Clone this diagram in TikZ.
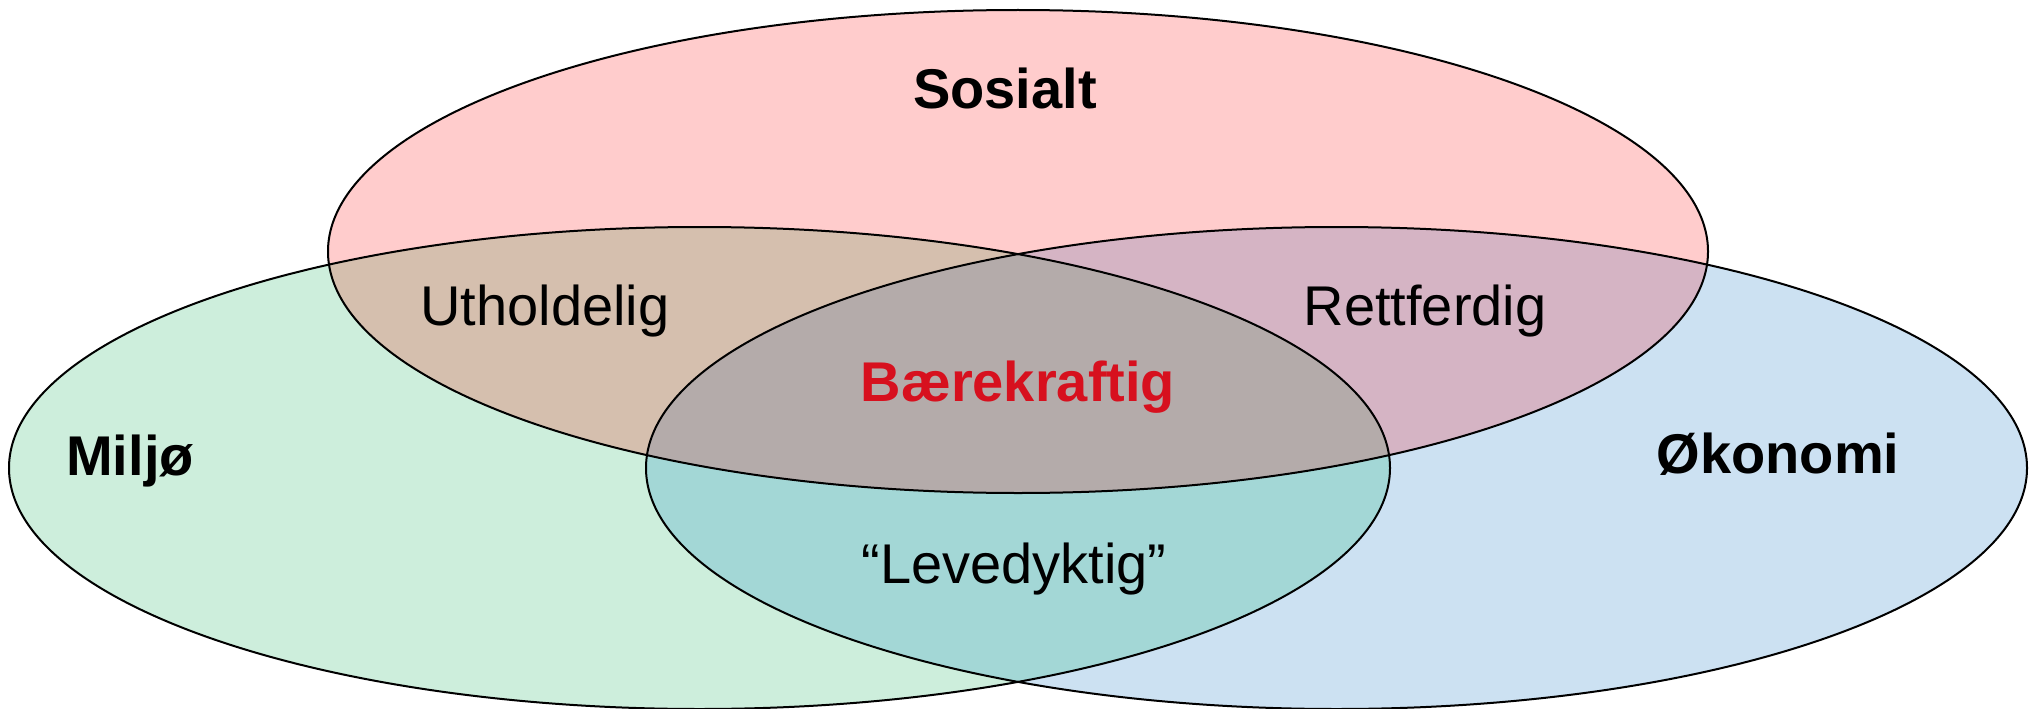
\documentclass[tikz,border=0pt]{standalone}
\usepackage{fontspec}
\setmainfont{Liberation Sans}
\definecolor{pinkc}{HTML}{FFCCCC}
\definecolor{greenc}{HTML}{CDEEDC}
\definecolor{bluec}{HTML}{CCE1F2}
\definecolor{pgc}{HTML}{D5BFAE}
\definecolor{pbc}{HTML}{D5B4C4}
\definecolor{gbc}{HTML}{A3D7D6}
\definecolor{tric}{HTML}{B4ABAA}
\definecolor{redtxt}{HTML}{D7101E}
\begin{document}
\begin{tikzpicture}[x=1pt,y=-1pt,
  outline/.style={draw=black,line width=2pt},
  lbl/.style={anchor=base,inner sep=0pt,font=\fontsize{56}{60}\selectfont},
  blbl/.style={lbl,font=\fontsize{56}{60}\selectfont\bfseries}]
\useasboundingbox (0,0) rectangle (2035,709);
\coordinate (cs) at (1018,251.5);
\coordinate (cm) at (699.5,468);
\coordinate (co) at (1336.5,468);
\def\sosE{(cs) ellipse [x radius=690pt, y radius=241.5pt]}
\def\milE{(cm) ellipse [x radius=690.5pt, y radius=241pt]}
\def\okoE{(co) ellipse [x radius=690.5pt, y radius=241pt]}
\fill[pinkc] \sosE;
\fill[greenc] \milE;
\fill[bluec] \okoE;
\begin{scope}\clip \sosE; \fill[pgc] \milE; \fill[pbc] \okoE; \end{scope}
\begin{scope}\clip \milE; \fill[gbc] \okoE; \end{scope}
\begin{scope}\clip \sosE; \clip \milE; \fill[tric] \okoE; \end{scope}
\draw[outline] \milE;
\draw[outline] \okoE;
\draw[outline] \sosE;
\node[blbl] (sos) at (1005,108) {Sosialt};
\node[blbl] (mil) at (130,475) {Miljø};
\node[blbl] (oko) at (1778,473) {Økonomi};
\node[lbl] (uth) at (545,325) {Utholdelig};
\node[lbl] (ret) at (1425,325) {Rettferdig};
\node[blbl,text=redtxt] (bae) at (1018,401) {Bærekraftig};
\node[lbl] (lev) at (1014,583) {“Levedyktig”};
\end{tikzpicture}
\end{document}
